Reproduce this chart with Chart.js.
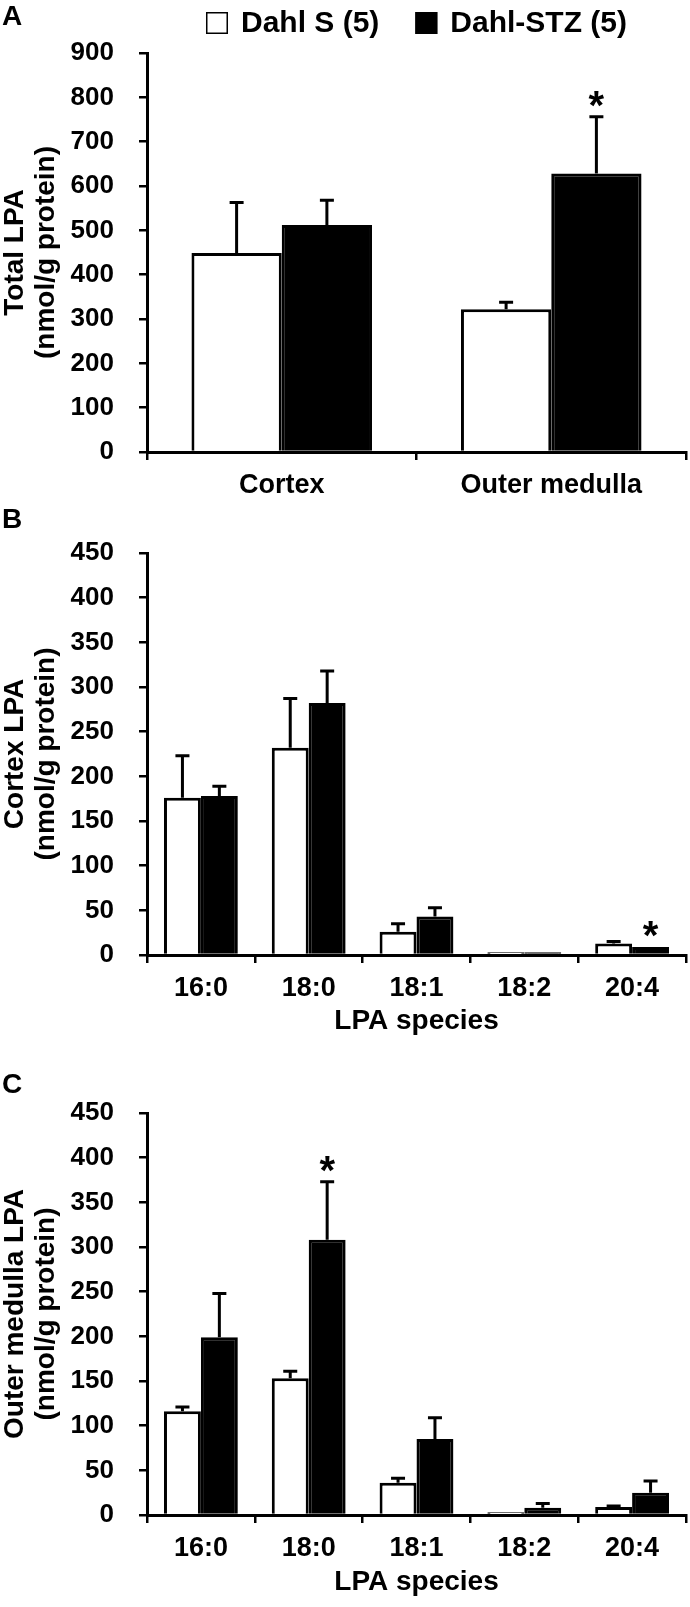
<!DOCTYPE html>
<html>
<head>
<meta charset="utf-8">
<title>LPA</title>
<script src="https://cdn.jsdelivr.net/npm/chart.js@4.4.0/dist/chart.umd.min.js"></script>
<style>
  body { margin: 0; background: #fff; }
  #contenedor { position: relative; width: 690px; height: 1607px; }
  canvas { position: absolute; left: 0; }
</style>
</head>
<body>
<div id="contenedor">
  <canvas id="panelA" width="690" height="500" style="top:0px"></canvas>
  <canvas id="panelB" width="690" height="560" style="top:500px"></canvas>
  <canvas id="panelC" width="690" height="547" style="top:1060px"></canvas>
</div>
<script>
var grupos = ['Dahl S (5)', 'Dahl-STZ (5)'];

// A: total LPA
var regiones = ['Cortex', 'Outer medulla'];
var totalDahlS = [449, 322];
var totalDahlSErr = [114, 16];
var totalSTZ = [512, 628];
var totalSTZErr = [56, 128];
var totalSig = ['', '*'];

// B y C: especies de LPA
var especies = ['16:0', '18:0', '18:1', '18:2', '20:4'];
var cortexDahlS = [176, 232, 26, 3, 13];
var cortexDahlSErr = [47, 55, 9, 0, 2];
var cortexSTZ = [178, 282, 43, 3, 9];
var cortexSTZErr = [11, 36, 10, 0, 0];
var cortexSig = ['', '', '', '', '*'];

var medullaDahlS = [116, 153, 36, 3, 9];
var medullaDahlSErr = [5, 8, 5, 0, 1];
var medullaSTZ = [199, 308, 85, 8, 25];
var medullaSTZErr = [49, 65, 24, 5, 13];
var medullaSig = ['', '*', '', '', ''];

var ticksTotal = { max: 900, paso: 100 };
var ticksEspecies = { max: 450, paso: 50 };

var fuente = "'Liberation Sans', Arial, sans-serif";
Chart.defaults.font.family = fuente;
Chart.defaults.font.weight = 'bold';
Chart.defaults.color = '#000';

// barras de error (solo hacia arriba) y asteriscos
var barrasError = {
  id: 'barrasError',
  afterDatasetsDraw: function(chart) {
    var ctx = chart.ctx;
    var escala = chart.scales.y;
    ctx.save();
    ctx.strokeStyle = '#000';
    ctx.lineWidth = 3;
    chart.data.datasets.forEach(function(ds, i) {
      var meta = chart.getDatasetMeta(i);
      meta.data.forEach(function(barra, j) {
        var tope = escala.getPixelForValue(ds.data[j] + ds.errores[j]);
        if (ds.errores[j] > 0) {
          ctx.beginPath();
          ctx.moveTo(barra.x, barra.y);
          ctx.lineTo(barra.x, tope);
          ctx.moveTo(barra.x - 7, tope);
          ctx.lineTo(barra.x + 7, tope);
          ctx.stroke();
        }
        if (ds.sig && ds.sig[j]) {
          ctx.fillStyle = '#000';
          ctx.font = 'bold 40px ' + fuente;
          ctx.textAlign = 'center';
          ctx.textBaseline = 'alphabetic';
          ctx.fillText(ds.sig[j], barra.x, tope + 2);
        }
      });
    });
    ctx.restore();
  }
};

var leyenda = {
  id: 'leyenda',
  afterDraw: function(chart) {
    var ctx = chart.ctx;
    var caja = 22, sep = 13, entre = 36, yc = 23;
    ctx.save();
    ctx.font = 'bold 30px ' + fuente;
    var anchos = chart.data.datasets.map(function(ds) { return ctx.measureText(ds.label).width; });
    var total = anchos[0] + anchos[1] + 2 * (caja + sep) + entre;
    var x = (chart.chartArea.left + chart.chartArea.right) / 2 - total / 2;
    chart.data.datasets.forEach(function(ds, i) {
      ctx.fillStyle = ds.backgroundColor;
      ctx.fillRect(x, yc - 11, caja, caja);
      ctx.strokeStyle = '#000';
      ctx.lineWidth = 1.5;
      ctx.strokeRect(x + 0.75, yc - 10.25, caja - 1.5, caja - 1.5);
      ctx.fillStyle = '#000';
      ctx.textAlign = 'left';
      ctx.textBaseline = 'middle';
      ctx.fillText(ds.label, x + caja + sep, yc + 1);
      x += caja + sep + anchos[i] + entre;
    });
    ctx.restore();
  }
};

function crearPanel(id, p) {
  var letra = {
    id: 'letra',
    afterDraw: function(chart) {
      var ctx = chart.ctx;
      ctx.save();
      ctx.font = 'bold 28px ' + fuente;
      ctx.fillStyle = '#000';
      ctx.textAlign = 'left';
      ctx.textBaseline = 'middle';
      ctx.fillText(p.letra, 2, p.letraY);
      ctx.restore();
    }
  };
  var plugins = [barrasError, letra];
  if (p.leyenda) plugins.push(leyenda);

  return new Chart(document.getElementById(id), {
    type: 'bar',
    data: {
      labels: p.etiquetas,
      datasets: [{
        label: grupos[0],
        data: p.serieS,
        errores: p.errS,
        backgroundColor: '#ffffff',
        borderColor: '#000000',
        borderWidth: 3
      }, {
        label: grupos[1],
        data: p.serieSTZ,
        errores: p.errSTZ,
        sig: p.sig,
        backgroundColor: '#000000',
        borderColor: '#000000',
        borderWidth: 3
      }]
    },
    options: {
      responsive: false,
      animation: false,
      devicePixelRatio: 1,
      categoryPercentage: p.ancho,
      barPercentage: 1,
      layout: { padding: { top: 53, right: 4, left: 0, bottom: 0 } },
      plugins: { legend: { display: false }, tooltip: { enabled: false } },
      scales: {
        x: {
          grid: { drawOnChartArea: false, tickLength: 8, color: '#000', lineWidth: 2.5, offset: true },
          border: { color: '#000', width: 3 },
          ticks: { font: { size: 27, weight: 'bold' }, padding: 9, maxRotation: 0, autoSkip: false },
          title: {
            display: !!p.tituloX,
            text: p.tituloX,
            font: { size: 28, weight: 'bold' },
            padding: { top: 0, bottom: p.pieTitulo }
          },
          afterFit: function(s) { s.height = p.altoX; }
        },
        y: {
          min: 0,
          max: p.ticks.max,
          ticks: { stepSize: p.ticks.paso, font: { size: 26, weight: 'bold' }, padding: 25 },
          grid: { drawOnChartArea: false, tickLength: 8, color: '#000', lineWidth: 2.5 },
          border: { color: '#000', width: 3 },
          title: {
            display: true,
            text: p.tituloY,
            font: { size: 28, weight: 'bold', lineHeight: 1.1 },
            padding: 0
          },
          afterFit: function(s) { s.width = 147; }
        }
      }
    },
    plugins: plugins
  });
}

crearPanel('panelA', {
  etiquetas: regiones, serieS: totalDahlS, errS: totalDahlSErr,
  serieSTZ: totalSTZ, errSTZ: totalSTZErr, sig: totalSig,
  ticks: ticksTotal, ancho: 0.67,
  tituloY: ['Total LPA', '(nmol/g protein)'], tituloX: '',
  altoX: 48, pieTitulo: 0, letra: 'A', letraY: 17, leyenda: true
});

crearPanel('panelB', {
  etiquetas: especies, serieS: cortexDahlS, errS: cortexDahlSErr,
  serieSTZ: cortexSTZ, errSTZ: cortexSTZErr, sig: cortexSig,
  ticks: ticksEspecies, ancho: 0.685,
  tituloY: ['Cortex LPA', '(nmol/g protein)'], tituloX: 'LPA species',
  altoX: 105, pieTitulo: 22, letra: 'B', letraY: 20
});

crearPanel('panelC', {
  etiquetas: especies, serieS: medullaDahlS, errS: medullaDahlSErr,
  serieSTZ: medullaSTZ, errSTZ: medullaSTZErr, sig: medullaSig,
  ticks: ticksEspecies, ancho: 0.685,
  tituloY: ['Outer medulla LPA', '(nmol/g protein)'], tituloX: 'LPA species',
  altoX: 92, pieTitulo: 8, letra: 'C', letraY: 25
});
</script>
</body>
</html>
